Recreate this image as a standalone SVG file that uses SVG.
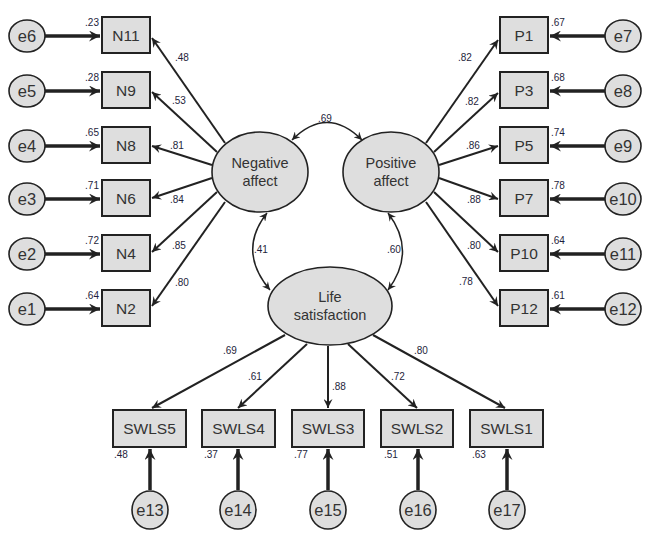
<svg xmlns="http://www.w3.org/2000/svg" width="650" height="539" viewBox="0 0 650 539">
<defs>
<style>
.box{fill:#dedede;stroke:#222;stroke-width:2}
.lat{fill:#dedede;stroke:#222;stroke-width:1.6}
.err{fill:#dedede;stroke:#222;stroke-width:1.6}
.t{font-family:"Liberation Sans",Arial,sans-serif;fill:#333;text-anchor:middle}
.bt{font-size:15.5px}
.lt{font-size:14.5px}
.et{font-size:16.5px}
.n{font-family:"Liberation Sans",Arial,sans-serif;font-size:10px;fill:#1e1e3c}
.load{fill:none;stroke:#222;stroke-width:2;marker-end:url(#ah)}
.eline{fill:none;stroke:#222;stroke-width:3.5;marker-end:url(#ahb)}
.cov{fill:none;stroke:#222;stroke-width:1.5;marker-start:url(#ahc);marker-end:url(#ahc)}
</style>
<marker id="ah" viewBox="0 0 10 10" refX="10" refY="5" markerWidth="10" markerHeight="9" markerUnits="userSpaceOnUse" orient="auto"><path d="M0,0 L10,5 L0,10 L3.5,5 z" fill="#222"/></marker>
<marker id="ahb" viewBox="0 0 10 10" refX="10" refY="5" markerWidth="11" markerHeight="11" markerUnits="userSpaceOnUse" orient="auto"><path d="M0,0 L10,5 L0,10 L3.5,5 z" fill="#222"/></marker>
<marker id="ahc" viewBox="0 0 10 10" refX="10" refY="5" markerWidth="9" markerHeight="8" markerUnits="userSpaceOnUse" orient="auto-start-reverse"><path d="M0,0 L10,5 L0,10 L3.5,5 z" fill="#222"/></marker>
</defs>

<g id="connectors">
<path class="eline" d="M45,36 L100,36"/>
<path class="eline" d="M45,91 L100,91"/>
<path class="eline" d="M45,146 L100,146"/>
<path class="eline" d="M45,199 L100,199"/>
<path class="eline" d="M45,254 L100,254"/>
<path class="eline" d="M45,309 L100,309"/>
<path class="eline" d="M605,36 L550,36"/>
<path class="eline" d="M605,91 L550,91"/>
<path class="eline" d="M605,146 L550,146"/>
<path class="eline" d="M605,199 L550,199"/>
<path class="eline" d="M605,254 L550,254"/>
<path class="eline" d="M605,309 L550,309"/>
<path class="load" d="M225,143 L152,38"/>
<path class="load" d="M217,152 L152,92"/>
<path class="load" d="M212,165 L152,146"/>
<path class="load" d="M212,178 L152,198"/>
<path class="load" d="M217,192 L152,252"/>
<path class="load" d="M225,202 L152,306"/>
<path class="load" d="M426,143 L498,40"/>
<path class="load" d="M434,152 L498,93"/>
<path class="load" d="M439,165 L498,146"/>
<path class="load" d="M439,178 L498,199"/>
<path class="load" d="M434,192 L498,252"/>
<path class="load" d="M426,202 L498,306"/>
<path class="load" d="M285,335 L152,408"/>
<path class="load" d="M307,344 L238,408"/>
<path class="load" d="M328,346 L328,408"/>
<path class="load" d="M348,344 L417,408"/>
<path class="load" d="M373,335 L505,408"/>
<path class="eline" d="M150,490 L150,449"/>
<path class="eline" d="M238,490 L238,449"/>
<path class="eline" d="M328,490 L328,449"/>
<path class="eline" d="M418,490 L418,449"/>
<path class="eline" d="M507,490 L507,449"/>
<path class="cov" d="M292,140 Q327,105 362,140"/>
<path class="cov" d="M267,213 Q237,251 270,290"/>
<path class="cov" d="M388,213 Q417,251 388,290"/>
</g>

<g id="labels">
<text class="n" x="99" y="26" text-anchor="end">.23</text>
<text class="n" x="99" y="81" text-anchor="end">.28</text>
<text class="n" x="99" y="136" text-anchor="end">.65</text>
<text class="n" x="99" y="189" text-anchor="end">.71</text>
<text class="n" x="99" y="244" text-anchor="end">.72</text>
<text class="n" x="99" y="299" text-anchor="end">.64</text>
<text class="n" x="551" y="26">.67</text>
<text class="n" x="551" y="81">.68</text>
<text class="n" x="551" y="136">.74</text>
<text class="n" x="551" y="189">.78</text>
<text class="n" x="551" y="244">.64</text>
<text class="n" x="551" y="299">.61</text>
<text class="n" x="175" y="61">.48</text>
<text class="n" x="172" y="104">.53</text>
<text class="n" x="170" y="149">.81</text>
<text class="n" x="170" y="203">.84</text>
<text class="n" x="172" y="249">.85</text>
<text class="n" x="175" y="286">.80</text>
<text class="n" x="458" y="61">.82</text>
<text class="n" x="465" y="105">.82</text>
<text class="n" x="466" y="149">.86</text>
<text class="n" x="467" y="203">.88</text>
<text class="n" x="467" y="249">.80</text>
<text class="n" x="459" y="285">.78</text>
<text class="n" x="318" y="122">.69</text>
<text class="n" x="254" y="253">.41</text>
<text class="n" x="387" y="253">.60</text>
<text class="n" x="223" y="354">.69</text>
<text class="n" x="248" y="380">.61</text>
<text class="n" x="332" y="390">.88</text>
<text class="n" x="391" y="380">.72</text>
<text class="n" x="414" y="354">.80</text>
<text class="n" x="114" y="458">.48</text>
<text class="n" x="204" y="458">.37</text>
<text class="n" x="294" y="458">.77</text>
<text class="n" x="384" y="458">.51</text>
<text class="n" x="472" y="458">.63</text>
</g>

<g id="e6"><ellipse class="err" cx="27" cy="36" rx="18" ry="16"/><text class="t et" x="27" y="42">e6</text></g>
<g id="e5"><ellipse class="err" cx="27" cy="91" rx="18" ry="16"/><text class="t et" x="27" y="97">e5</text></g>
<g id="e4"><ellipse class="err" cx="27" cy="146" rx="18" ry="16"/><text class="t et" x="27" y="152">e4</text></g>
<g id="e3"><ellipse class="err" cx="27" cy="199" rx="18" ry="16"/><text class="t et" x="27" y="205">e3</text></g>
<g id="e2"><ellipse class="err" cx="27" cy="254" rx="18" ry="16"/><text class="t et" x="27" y="260">e2</text></g>
<g id="e1"><ellipse class="err" cx="27" cy="309" rx="18" ry="16"/><text class="t et" x="27" y="315">e1</text></g>

<g id="N11"><rect class="box" x="102" y="17" width="48" height="36"/><text class="t bt" x="126" y="40.5">N11</text></g>
<g id="N9"><rect class="box" x="102" y="72" width="48" height="36"/><text class="t bt" x="126" y="95.5">N9</text></g>
<g id="N8"><rect class="box" x="102" y="127" width="48" height="36"/><text class="t bt" x="126" y="150.5">N8</text></g>
<g id="N6"><rect class="box" x="102" y="180" width="48" height="36"/><text class="t bt" x="126" y="203.5">N6</text></g>
<g id="N4"><rect class="box" x="102" y="235" width="48" height="36"/><text class="t bt" x="126" y="258.5">N4</text></g>
<g id="N2"><rect class="box" x="102" y="290" width="48" height="36"/><text class="t bt" x="126" y="313.5">N2</text></g>

<g id="e7"><ellipse class="err" cx="623" cy="36" rx="18" ry="16"/><text class="t et" x="623" y="42">e7</text></g>
<g id="e8"><ellipse class="err" cx="623" cy="91" rx="18" ry="16"/><text class="t et" x="623" y="97">e8</text></g>
<g id="e9"><ellipse class="err" cx="623" cy="146" rx="18" ry="16"/><text class="t et" x="623" y="152">e9</text></g>
<g id="e10"><ellipse class="err" cx="623" cy="199" rx="18" ry="16"/><text class="t et" x="623" y="205">e10</text></g>
<g id="e11"><ellipse class="err" cx="623" cy="254" rx="18" ry="16"/><text class="t et" x="623" y="260">e11</text></g>
<g id="e12"><ellipse class="err" cx="623" cy="309" rx="18" ry="16"/><text class="t et" x="623" y="315">e12</text></g>

<g id="P1"><rect class="box" x="500" y="17" width="48" height="36"/><text class="t bt" x="524" y="40.5">P1</text></g>
<g id="P3"><rect class="box" x="500" y="72" width="48" height="36"/><text class="t bt" x="524" y="95.5">P3</text></g>
<g id="P5"><rect class="box" x="500" y="127" width="48" height="36"/><text class="t bt" x="524" y="150.5">P5</text></g>
<g id="P7"><rect class="box" x="500" y="180" width="48" height="36"/><text class="t bt" x="524" y="203.5">P7</text></g>
<g id="P10"><rect class="box" x="500" y="235" width="48" height="36"/><text class="t bt" x="524" y="258.5">P10</text></g>
<g id="P12"><rect class="box" x="500" y="290" width="48" height="36"/><text class="t bt" x="524" y="313.5">P12</text></g>

<g id="negative-affect"><ellipse class="lat" cx="260" cy="172" rx="48" ry="40"/><text class="t lt" x="260" y="168">Negative</text><text class="t lt" x="260" y="186">affect</text></g>
<g id="positive-affect"><ellipse class="lat" cx="391" cy="172" rx="48" ry="40"/><text class="t lt" x="391" y="168">Positive</text><text class="t lt" x="391" y="186">affect</text></g>
<g id="life-satisfaction"><ellipse class="lat" cx="330" cy="306" rx="62" ry="39"/><text class="t lt" x="330" y="302">Life</text><text class="t lt" x="330" y="320">satisfaction</text></g>

<g id="SWLS5"><rect class="box" x="113" y="410" width="73" height="37"/><text class="t bt" x="149.5" y="434">SWLS5</text></g>
<g id="SWLS4"><rect class="box" x="202" y="410" width="73" height="37"/><text class="t bt" x="238.5" y="434">SWLS4</text></g>
<g id="SWLS3"><rect class="box" x="292" y="410" width="72" height="37"/><text class="t bt" x="328" y="434">SWLS3</text></g>
<g id="SWLS2"><rect class="box" x="381" y="410" width="72" height="37"/><text class="t bt" x="417" y="434">SWLS2</text></g>
<g id="SWLS1"><rect class="box" x="470" y="410" width="73" height="37"/><text class="t bt" x="506.5" y="434">SWLS1</text></g>

<g id="e13"><ellipse class="err" cx="150" cy="510" rx="18" ry="19"/><text class="t et" x="150" y="516">e13</text></g>
<g id="e14"><ellipse class="err" cx="238" cy="510" rx="18" ry="19"/><text class="t et" x="238" y="516">e14</text></g>
<g id="e15"><ellipse class="err" cx="328" cy="510" rx="18" ry="19"/><text class="t et" x="328" y="516">e15</text></g>
<g id="e16"><ellipse class="err" cx="418" cy="510" rx="18" ry="19"/><text class="t et" x="418" y="516">e16</text></g>
<g id="e17"><ellipse class="err" cx="507" cy="510" rx="18" ry="19"/><text class="t et" x="507" y="516">e17</text></g>
</svg>
